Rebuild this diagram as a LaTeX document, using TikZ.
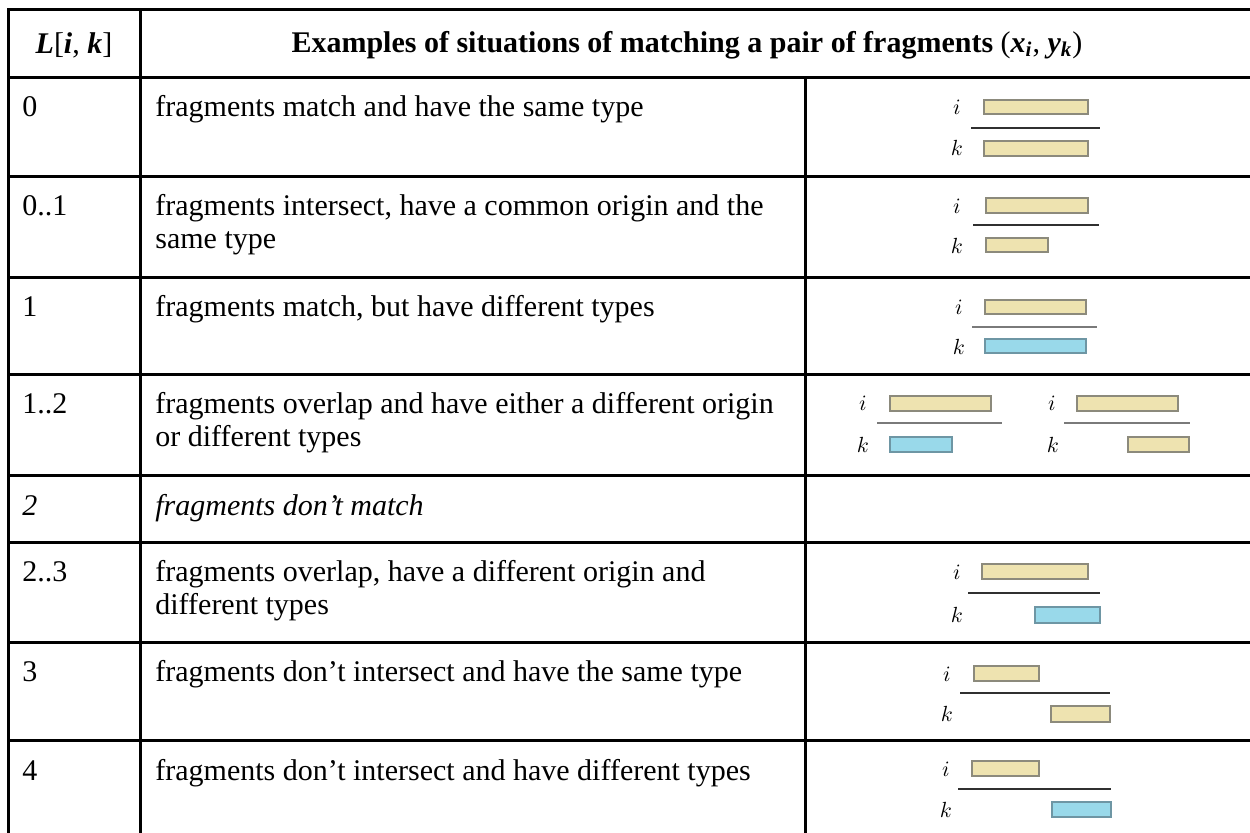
\documentclass[tikz,border=0pt]{standalone}
\usepackage{fontspec}
\setmainfont{Liberation Serif}
\definecolor{tanfill}{HTML}{EEE3B0}
\definecolor{tanedge}{HTML}{8C8A7C}
\definecolor{bluefill}{HTML}{99D9EA}
\definecolor{blueedge}{HTML}{6E96A4}
\definecolor{axisdark}{HTML}{303030}
\definecolor{axisgray}{HTML}{7A7A7A}
\begin{document}
\begin{tikzpicture}[x=0.5pt,y=-0.5pt,
  rule/.style={line width=1.5pt, line cap=rect},
  cell/.style={anchor=base west, inner sep=0pt, font=\fontsize{15}{17}\selectfont},
  head/.style={inner sep=0pt, font=\fontsize{15}{17}\selectfont\bfseries},
  lbl/.style={inner sep=0pt, font=\fontsize{11}{13}\selectfont},
  tanbar/.style={fill=tanfill, draw=tanedge, line width=0.6pt},
  bluebar/.style={fill=bluefill, draw=blueedge, line width=0.6pt},
  axisline/.style={draw=axisdark, line width=0.7pt},
  axisgrey/.style={draw=axisgray, line width=1pt}]
\useasboundingbox[fill=white] (0,0) rectangle (1250,833);

% table rules
\foreach \yy in {10,78,177,278,375,476,543,643,741}
  \draw[rule] (8,\yy) -- (1252,\yy);
\draw[rule] (8,10) -- (8,835);
\draw[rule] (140,10) -- (140,835);
\draw[rule] (805,78) -- (805,835);

% header
\node[head] (hL) at (74,45) {\textit{L}\textmd{[}\textit{i}\textmd{, }\textit{k}\textmd{]}};
\node[head] (hE) at (687,45) {Examples of situations of matching a pair of fragments \textmd{(}\textit{x}\textsubscript{\textit{i}}\textmd{, }\textit{y}\textsubscript{\textit{k}}\textmd{)}};

% first column
\node[cell] (c0)   at (22,117) {0};
\node[cell] (c01)  at (22,216) {0..1};
\node[cell] (c1)   at (22,317) {1};
\node[cell] (c12)  at (22,414) {1..2};
\node[cell] (c2)   at (22,516) {\itshape 2};
\node[cell] (c23)  at (22,582) {2..3};
\node[cell] (c3)   at (22,682) {3};
\node[cell] (c4)   at (22,781) {4};

% second column
\node[cell] (d0)   at (155,117) {fragments match and have the same type};
\node[cell] (d01a) at (155,216) {fragments intersect, have a common origin and the};
\node[cell] (d01b) at (155,249) {same type};
\node[cell] (d1)   at (155,317) {fragments match, but have different types};
\node[cell] (d12a) at (155,414) {fragments overlap and have either a different origin};
\node[cell] (d12b) at (155,447) {or different types};
\node[cell] (d2)   at (155,516) {\itshape fragments don’t match};
\node[cell] (d23a) at (155,582) {fragments overlap, have a different origin and};
\node[cell] (d23b) at (155,615) {different types};
\node[cell] (d3)   at (155,682) {fragments don’t intersect and have the same type};
\node[cell] (d4)   at (155,781) {fragments don’t intersect and have different types};

% row 0: identical span, same type
\node[lbl] (i0) at (957,107) {$i$};
\node[lbl] (k0) at (957,148) {$k$};
\draw[tanbar] (984,100) rectangle (1088,114);
\draw[axisline] (971,128) -- (1100,128);
\draw[tanbar] (984,141) rectangle (1088,156);

% row 0..1: common origin, shorter k
\node[lbl] (i01) at (957,206) {$i$};
\node[lbl] (k01) at (957,246) {$k$};
\draw[tanbar] (986,198) rectangle (1088,213);
\draw[axisline] (973,225) -- (1099,225);
\draw[tanbar] (986,238) rectangle (1048,252);

% row 1: identical span, different type
\node[lbl] (i1) at (959,307) {$i$};
\node[lbl] (k1) at (959,347) {$k$};
\draw[tanbar] (985,300) rectangle (1086,314);
\draw[axisgrey] (972,327) -- (1097,327);
\draw[bluebar] (985,339) rectangle (1086,353);

% row 1..2: two overlap cases
\node[lbl] (i12a) at (863,403) {$i$};
\node[lbl] (k12a) at (863,445) {$k$};
\draw[tanbar] (890,396) rectangle (991,411);
\draw[axisgrey] (877,423) -- (1002,423);
\draw[bluebar] (890,437) rectangle (952,452);
\node[lbl] (i12b) at (1052,403) {$i$};
\node[lbl] (k12b) at (1053,445) {$k$};
\draw[tanbar] (1077,396) rectangle (1178,411);
\draw[axisgrey] (1064,423) -- (1190,423);
\draw[tanbar] (1128,437) rectangle (1189,452);

% row 2..3: overlap, different origin and type
\node[lbl] (i23) at (957,572) {$i$};
\node[lbl] (k23) at (957,615) {$k$};
\draw[tanbar] (982,564) rectangle (1088,579);
\draw[axisline, line width=1pt] (968,593) -- (1100,593);
\draw[bluebar] (1035,607) rectangle (1100,623);

% row 3: disjoint, same type
\node[lbl] (i3) at (947,674) {$i$};
\node[lbl] (k3) at (947,714) {$k$};
\draw[tanbar] (974,666) rectangle (1039,681);
\draw[axisline, line width=0.9pt] (960,693) -- (1110,693);
\draw[tanbar] (1051,706) rectangle (1110,722);

% row 4: disjoint, different type
\node[lbl] (i4) at (946,769) {$i$};
\node[lbl] (k4) at (946,810) {$k$};
\draw[tanbar] (972,761) rectangle (1039,776);
\draw[axisline] (958,789) -- (1111,789);
\draw[bluebar] (1052,802) rectangle (1111,817);
\end{tikzpicture}
\end{document}
